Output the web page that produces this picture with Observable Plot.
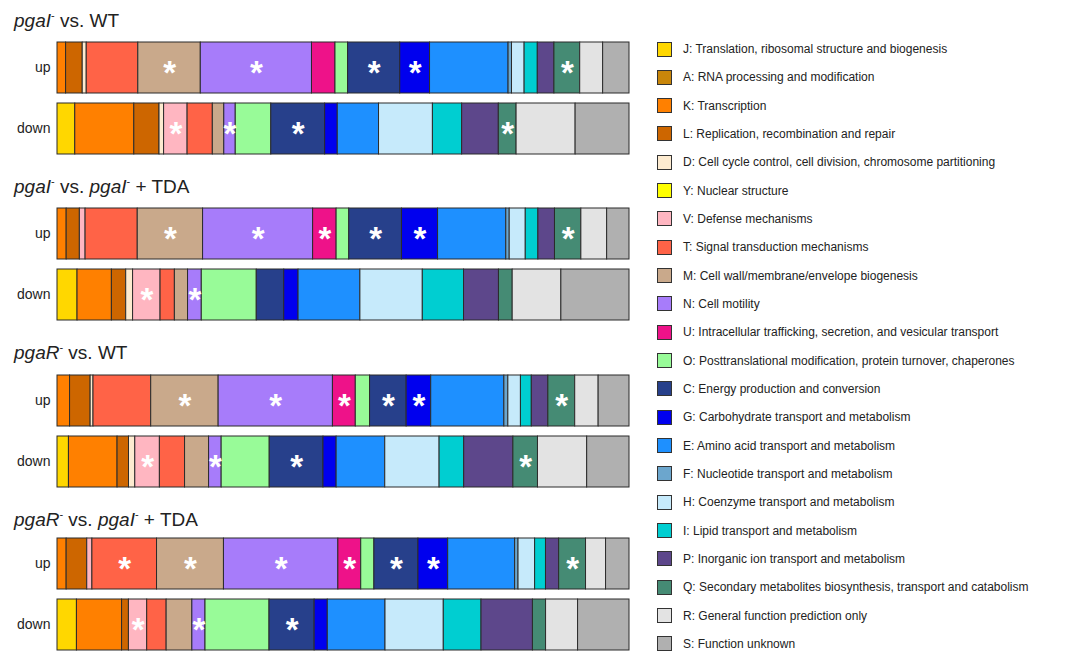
<!DOCTYPE html>
<html>
<head>
<meta charset="utf-8">
<script src="https://cdn.jsdelivr.net/npm/d3@7"></script>
<script src="https://cdn.jsdelivr.net/npm/@observablehq/plot@0.6"></script>
<style>
  html, body { margin: 0; padding: 0; background: #fff; }
  body { width: 1077px; height: 652px; position: relative; overflow: hidden;
         font-family: "Liberation Sans", Arial, Helvetica, sans-serif; color: #222; }
  .title { position: absolute; left: 14px; font-size: 19px; white-space: nowrap; line-height: 1; }
  .title sup { font-size: 11px; vertical-align: 8px; line-height: 0; }
  .panel { position: absolute; left: 0; }
  .leg { position: absolute; left: 657px; height: 16px; display: flex; align-items: center; white-space: nowrap; }
  .sw { width: 15px; height: 15px; border: 1px solid #333; box-sizing: border-box; margin-right: 11px; flex: none; }
  .lt { font-size: 12px; color: #222; }
</style>
</head>
<body>
<script>
// COG categories (legend order = stacking order)
const cogCodes = ["J","A","K","L","D","Y","V","T","M","N","U","O","C","G","E","F","H","I","P","Q","R","S"];
const cogLabels = [
  "J: Translation, ribosomal structure and biogenesis",
  "A: RNA processing and modification",
  "K: Transcription",
  "L: Replication, recombination and repair",
  "D: Cell cycle control, cell division, chromosome partitioning",
  "Y: Nuclear structure",
  "V: Defense mechanisms",
  "T: Signal transduction mechanisms",
  "M: Cell wall/membrane/envelope biogenesis",
  "N: Cell motility",
  "U: Intracellular trafficking, secretion, and vesicular transport",
  "O: Posttranslational modification, protein turnover, chaperones",
  "C: Energy production and conversion",
  "G: Carbohydrate transport and metabolism",
  "E: Amino acid transport and metabolism",
  "F: Nucleotide transport and metabolism",
  "H: Coenzyme transport and metabolism",
  "I: Lipid transport and metabolism",
  "P: Inorganic ion transport and metabolism",
  "Q: Secondary metabolites biosynthesis, transport and catabolism",
  "R: General function prediction only",
  "S: Function unknown"
];
const cogColors = ["#FFD700","#C8860A","#FF8000","#CD6600","#FDEBD0","#FFFF00","#FFB6C1","#FF6347",
  "#C9A98B","#A77CFA","#EE1289","#98FB98","#27408B","#0000EE","#1E90FF","#6CA6CD",
  "#C6EAFB","#00CED1","#5D478B","#458B74","#E3E3E3","#B0B0B0"];

// Percent of differentially expressed genes per COG category (order = cogCodes)
const p1Up   = [0,0,1.5,2.9,0.7,0,0,9.0,10.9,19.4,4.1,2.2,9.1,5.2,13.7,0.6,2.2,2.3,2.9,4.5,4.0,4.6];
const p1Down = [3.1,0,10.3,4.4,0.8,0,4.1,4.4,2.0,2.0,0,6.2,9.4,2.2,7.2,0,9.4,5.1,6.4,3.1,10.3,9.4];
const p2Up   = [0,0,1.6,2.3,0,0,1.0,9.1,11.4,19.2,4.1,2.2,9.2,6.3,11.9,0.6,2.8,2.2,2.9,4.6,4.5,3.9];
const p2Down = [3.5,0,6.0,2.5,1.2,0,4.8,2.5,2.3,2.4,0,9.6,4.8,2.5,10.8,0,10.9,7.2,6.1,2.4,8.5,11.9];
const p3Up   = [0,0,2.2,3.6,0.5,0,0,10.1,11.8,20.0,4.0,2.5,6.4,4.3,12.8,0.7,2.2,1.9,2.9,4.7,4.1,5.4];
const p3Down = [2.0,0,8.5,2.0,1.1,0,4.3,4.4,4.2,2.2,0,8.4,9.4,2.3,8.5,0,9.5,4.3,8.6,4.3,8.6,7.4];
const p4Up   = [0,0,1.6,3.6,0,0,0.9,11.3,11.7,20.0,4.0,2.3,7.7,5.2,11.7,0.6,2.9,1.9,2.3,4.7,3.5,4.1];
const p4Down = [3.4,0,7.9,1.2,0,0,3.2,3.4,4.5,2.3,0,11.2,7.9,2.3,10.1,0,10.2,6.6,9.0,2.3,5.6,9.0];

// Significantly enriched categories (marked with *)
const p1UpStars   = ["M","N","C","G","Q"];
const p1DownStars = ["V","N","C","Q"];
const p2UpStars   = ["M","N","U","C","G","Q"];
const p2DownStars = ["V","N"];
const p3UpStars   = ["M","N","U","C","G","Q"];
const p3DownStars = ["V","N","C","Q"];
const p4UpStars   = ["T","M","N","U","C","G","Q"];
const p4DownStars = ["V","N","C"];

const panelTitles = [
  "<i>pgaI</i><sup>-</sup> vs. WT",
  "<i>pgaI</i><sup>-</sup> vs. <i>pgaI</i><sup>-</sup> + TDA",
  "<i>pgaR</i><sup>-</sup> vs. WT",
  "<i>pgaR</i><sup>-</sup> vs. <i>pgaI</i><sup>-</sup> + TDA"
];
const dirs = ["up","down"];

// layout
const panelTops = [41, 207, 374, 537];
const titleTops = [11, 177, 343, 510];

const panels = [
  [p1Up, p1Down, p1UpStars, p1DownStars],
  [p2Up, p2Down, p2UpStars, p2DownStars],
  [p3Up, p3Down, p3UpStars, p3DownStars],
  [p4Up, p4Down, p4UpStars, p4DownStars]
];

panels.forEach(([up, down, upS, downS], i) => {
  const rows = [];
  [[up, upS, "up"], [down, downS, "down"]].forEach(([vals, stars, dir]) => {
    vals.forEach((v, k) => {
      if (v > 0) rows.push({dir, code: cogCodes[k], value: v, star: stars.includes(cogCodes[k])});
    });
  });

  const t = document.createElement("div");
  t.className = "title";
  t.style.top = titleTops[i] + "px";
  t.innerHTML = panelTitles[i];
  document.body.appendChild(t);

  const chart = Plot.plot({
    width: 640,
    height: 114,
    marginLeft: 57,
    marginRight: 11,
    marginTop: 1,
    marginBottom: 1,
    style: {fontFamily: '"Liberation Sans", Arial, sans-serif', fontSize: "14px", color: "#222", background: "transparent"},
    x: {axis: null},
    y: {domain: dirs, paddingInner: 0.164, paddingOuter: 0, label: null, tickSize: 0, tickPadding: 7},
    color: {domain: cogCodes, range: cogColors},
    marks: [
      Plot.barX(rows, Plot.stackX({x: "value", y: "dir", z: "code", fill: "code", offset: "normalize",
        stroke: "#2b2b2b", strokeWidth: 1})),
      Plot.text(rows, Plot.stackX({x: "value", y: "dir", z: "code", offset: "normalize",
        text: d => d.star ? "*" : "", fill: "white", fontSize: 33, fontWeight: "bold", dy: 5}))
    ]
  });
  const wrap = document.createElement("div");
  wrap.className = "panel";
  wrap.style.top = panelTops[i] + "px";
  wrap.appendChild(chart);
  document.body.appendChild(wrap);
});

// legend
cogCodes.forEach((c, k) => {
  const row = document.createElement("div");
  row.className = "leg";
  row.style.top = (41 + k * 28.33) + "px";
  const sw = document.createElement("span");
  sw.className = "sw";
  sw.style.background = cogColors[k];
  const lt = document.createElement("span");
  lt.className = "lt";
  lt.textContent = cogLabels[k];
  row.appendChild(sw);
  row.appendChild(lt);
  document.body.appendChild(row);
});
</script>
</body>
</html>
